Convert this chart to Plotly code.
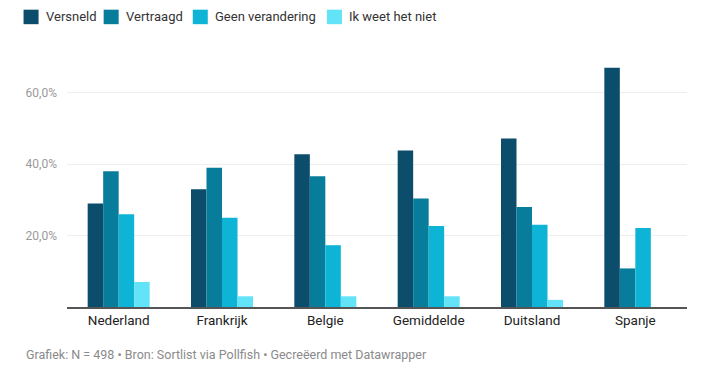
import plotly.graph_objects as go

categories = ["Nederland", "Frankrijk", "Belgie", "Gemiddelde", "Duitsland", "Spanje"]
series_names = ["Versneld", "Vertraagd", "Geen verandering", "Ik weet het niet"]
versneld = [29, 33, 42.8, 43.8, 47.2, 67]
vertraagd = [38, 39, 36.6, 30.4, 28, 10.8]
geen_verandering = [26, 25, 17.3, 22.7, 23, 22.1]
weet_niet = [7, 3, 3, 3, 2, 0]
colors = ["#0b4d6a", "#087c9b", "#0db4d6", "#63e3f8"]
tick_values = [20, 40, 60]
tick_labels = ["20,0%", "40,0%", "60,0%"]
footer = "Grafiek: N = 498 • Bron: Sortlist via Pollfish • Gecreëerd met Datawrapper"

# page body has an 8px margin; work in figure pixels
W, H = 698, 361
L, R, T, B = 59.4, 19.4, 48.8, 62.3
PW, PH = W - L - R, H - T - B


def px(x):
    return (x - L) / PW


def py(y):
    return 1 - (y - T) / PH


fig = go.Figure()
for name, vals, col in zip(series_names, [versneld, vertraagd, geen_verandering, weet_niet], colors):
    fig.add_trace(go.Bar(name=name, x=categories, y=vals, marker=dict(color=col, line=dict(width=0))))

# custom legend (positions in figure pixels)
legend_x = [16, 96, 185, 319]
shapes = []
annotations = []
for name, col, x0 in zip(series_names, colors, legend_x):
    shapes.append(dict(type="rect", xref="paper", yref="paper",
                       x0=px(x0), x1=px(x0 + 15), y0=py(1.5), y1=py(16),
                       fillcolor=col, line=dict(width=0)))
    annotations.append(dict(text=name, xref="paper", yref="paper", x=px(x0 + 20), y=py(8.8),
                            xanchor="left", yanchor="middle", showarrow=False,
                            font=dict(size=13, color="#333333")))

annotations.append(dict(text=footer, xref="paper", yref="paper", x=px(16), y=py(346),
                        xanchor="left", yanchor="middle", showarrow=False,
                        font=dict(size=12.5, color="#8a8a8a")))

fig.update_layout(
    width=W, height=H,
    barmode="group", bargap=0.4, bargroupgap=0,
    paper_bgcolor="white", plot_bgcolor="white",
    margin=dict(l=L, r=R, t=T, b=B, autoexpand=False),
    font=dict(family="Roboto", size=13, color="#333333"),
    showlegend=False,
    xaxis=dict(showgrid=False, showline=True, linecolor="#555555", linewidth=1.5,
               tickfont=dict(size=13.5, color="#222222"), ticks="", fixedrange=True),
    yaxis=dict(range=[0, 70], tickvals=tick_values, ticktext=tick_labels,
               showgrid=True, gridcolor="#eeeeee", gridwidth=1, zeroline=False,
               tickfont=dict(size=12, color="#999999"), ticks="", ticklabelstandoff=9),
    shapes=shapes,
    annotations=annotations,
)

fig.write_html("out.html")
